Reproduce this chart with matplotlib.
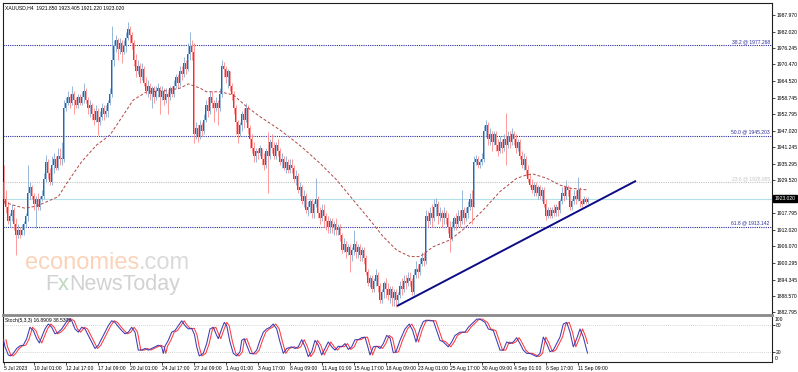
import matplotlib.pyplot as plt
from matplotlib.transforms import blended_transform_factory
import numpy as np

plt.rcParams['font.family'] = ['Liberation Sans', 'DejaVu Sans']

# XAUUSD H4 candles (one value per bar)
first_open = 1929.0
closes = [
    1923, 1920, 1915, 1917, 1919, 1914, 1910, 1912, 1910, 1912,
    1914, 1917, 1925, 1927, 1924, 1921, 1923, 1920, 1923, 1924,
    1930, 1936, 1932, 1929, 1935, 1937, 1934, 1938, 1937, 1937,
    1955, 1957, 1959, 1957, 1960, 1958, 1956, 1959, 1957, 1959,
    1961, 1958, 1955, 1956, 1953, 1951, 1954, 1950, 1952, 1955,
    1953, 1954, 1957, 1960, 1972, 1977, 1979, 1976, 1978, 1975,
    1977, 1980, 1983, 1981, 1978, 1972, 1968, 1970, 1966, 1969,
    1964, 1961, 1963, 1960, 1962, 1959, 1961, 1962, 1959, 1961,
    1958, 1960, 1959, 1962, 1960, 1963, 1966, 1964, 1968, 1967,
    1971, 1969, 1974, 1977, 1975, 1946, 1948, 1945, 1949, 1947,
    1951, 1956, 1954, 1959, 1957, 1955, 1957, 1955, 1960, 1970,
    1969, 1966, 1968, 1963, 1960, 1955, 1950, 1946, 1949, 1953,
    1951, 1955, 1948, 1944, 1941, 1938, 1940, 1939, 1941,
    1937, 1935, 1940, 1938, 1943, 1941, 1938, 1942, 1940, 1936,
    1937, 1934, 1936, 1933, 1935, 1934, 1930, 1931, 1926, 1927,
    1922, 1924, 1919, 1920, 1922, 1918, 1921, 1923, 1918, 1916,
    1919, 1917, 1915, 1913, 1915, 1913, 1914, 1912, 1913, 1910,
    1905, 1907, 1904, 1906, 1903, 1905, 1907, 1904, 1906, 1903,
    1905, 1902, 1897, 1893, 1895, 1891, 1894, 1896, 1892, 1887,
    1890, 1893, 1891, 1889, 1891, 1888, 1890, 1887, 1889, 1892,
    1891, 1894, 1893, 1895, 1894, 1890, 1896, 1898, 1897, 1900,
    1902, 1901, 1917, 1915, 1918, 1916, 1920, 1921, 1917, 1918,
    1916, 1918, 1916, 1913, 1909, 1913, 1916, 1914, 1917, 1915,
    1919, 1916, 1918, 1920, 1923, 1920, 1936, 1937, 1935, 1936,
    1937, 1947, 1949, 1944, 1946, 1943, 1946, 1942, 1940, 1943,
    1941, 1944, 1942, 1945, 1943, 1946, 1944, 1941, 1943, 1938,
    1935, 1937, 1933, 1930, 1928, 1926, 1928, 1925, 1927, 1924,
    1926, 1921, 1917, 1919, 1917, 1919, 1918, 1920, 1919, 1922,
    1925, 1924, 1927, 1926, 1920, 1922, 1924, 1923, 1926, 1922,
    1921, 1923, 1921.85, 1923.02,
]
highs = [
    1935, 1926, 1922, 1918, 1921, 1920, 1916, 1914, 1913, 1914,
    1915, 1918, 1935, 1929, 1928, 1925, 1924, 1925, 1924, 1926,
    1932, 1938.5, 1937, 1934, 1938, 1939, 1938, 1941, 1941, 1943,
    1958, 1959, 1961, 1960, 1963, 1961, 1959, 1960, 1960, 1961,
    1964, 1962, 1959, 1958, 1957, 1955, 1956, 1955, 1954, 1957,
    1956, 1956, 1958, 1962, 1984, 1979, 1981, 1980, 1980, 1979,
    1979, 1982, 1985.5, 1984, 1982, 1979, 1974, 1972, 1971, 1971,
    1970, 1966, 1965, 1964, 1963, 1963, 1963, 1964, 1963, 1963,
    1962, 1962, 1961, 1963, 1963, 1965, 1967, 1967, 1970, 1970,
    1973, 1972, 1978, 1982, 1979, 1978, 1950, 1949, 1951, 1950,
    1953, 1958, 1959, 1961, 1961, 1958, 1959, 1958, 1962, 1972,
    1971.5, 1970, 1969, 1968, 1964, 1961, 1956, 1951, 1950, 1954,
    1955, 1957, 1956, 1949, 1946, 1943, 1941, 1941, 1942,
    1940, 1939, 1941, 1946.6, 1944, 1946, 1943, 1943, 1944, 1941,
    1939, 1938, 1938, 1937, 1937, 1937, 1935, 1933, 1932, 1929,
    1928, 1926, 1925, 1922, 1923, 1923, 1922, 1930.3, 1924, 1920,
    1921, 1921, 1918, 1917, 1916, 1916, 1915, 1916, 1914, 1914,
    1911, 1909, 1908, 1907, 1907, 1906, 1912, 1908, 1907, 1907,
    1906, 1906, 1903, 1898, 1896, 1896, 1895, 1898, 1897, 1893,
    1891, 1894, 1895, 1893, 1892, 1892, 1891, 1891, 1890, 1894,
    1895, 1896, 1896, 1897, 1897, 1895, 1898, 1901, 1900, 1902,
    1904, 1904, 1919, 1918.5, 1920, 1921, 1923, 1923.2, 1922, 1920,
    1919, 1920, 1919, 1918, 1915, 1915, 1917, 1918, 1919, 1919,
    1926, 1920, 1920, 1922, 1925, 1926, 1938, 1938.5, 1938, 1937,
    1939, 1949, 1951, 1950, 1948, 1947, 1947, 1947, 1944, 1945,
    1944, 1946, 1953.3, 1947, 1947, 1948, 1947, 1946, 1944, 1944,
    1940, 1939, 1938, 1935, 1932, 1930, 1929, 1929, 1928, 1928,
    1927, 1927, 1923, 1920, 1920, 1920, 1921, 1921, 1922, 1923,
    1927, 1928, 1929.6, 1928, 1927, 1923, 1926, 1926, 1930.7, 1927,
    1923, 1924, 1923.5, 1923.405,
]
lows = [
    1921, 1918, 1914, 1913, 1915, 1912, 1903, 1909, 1909, 1910,
    1910, 1913, 1915, 1923, 1923, 1919, 1912.6, 1919, 1919, 1922,
    1923, 1929, 1930, 1928, 1928, 1932, 1933, 1933, 1935, 1935,
    1936, 1954, 1956, 1955, 1956, 1953, 1955, 1955, 1956, 1956,
    1957, 1957, 1953, 1952, 1951, 1949, 1950, 1945.5, 1949, 1951,
    1951, 1952, 1952, 1956, 1959, 1970, 1975, 1972, 1974, 1971,
    1974, 1975, 1979, 1978, 1976, 1970, 1966, 1967, 1964, 1965,
    1963, 1960, 1959, 1958, 1955, 1957, 1958, 1959, 1953, 1958,
    1956, 1957, 1953, 1958, 1959, 1959, 1962, 1962, 1963, 1965,
    1966, 1967, 1968, 1972, 1972, 1942.7, 1944, 1943, 1944, 1945,
    1946, 1950, 1952, 1953, 1955, 1950, 1954, 1949, 1954, 1959,
    1966, 1964, 1962, 1961, 1958, 1953, 1946, 1942.7, 1945, 1947,
    1948, 1950, 1946, 1941, 1939, 1936, 1936, 1937, 1938,
    1935, 1933, 1934, 1925, 1937, 1939, 1937, 1937, 1938, 1935,
    1934, 1933, 1932, 1932, 1932, 1932, 1929, 1928, 1925, 1924,
    1921, 1920, 1918, 1917, 1918, 1916, 1916, 1920, 1916, 1914,
    1915, 1913, 1912, 1911, 1911, 1911, 1910, 1910, 1910, 1908,
    1903.8, 1904, 1902, 1903, 1897, 1901, 1903, 1902, 1902, 1901,
    1901, 1900, 1896, 1892, 1891.7, 1890, 1890, 1892, 1890, 1886,
    1886, 1888, 1888, 1887, 1886, 1885, 1885, 1884.7, 1885.5, 1888,
    1889, 1890, 1891, 1892, 1892, 1889, 1889, 1895, 1895, 1896,
    1899, 1899, 1900, 1913, 1914, 1913, 1915, 1917, 1914, 1915,
    1913, 1914, 1914, 1911, 1904, 1908, 1912, 1912, 1913, 1913,
    1914, 1914, 1915, 1916, 1919, 1914, 1920, 1935, 1934, 1934,
    1935, 1936, 1945, 1942, 1942, 1940, 1942, 1940, 1938, 1939,
    1939, 1940, 1935, 1941, 1941, 1942, 1942, 1939, 1940, 1937,
    1934, 1933, 1931, 1929, 1927, 1925, 1924, 1924, 1923, 1923,
    1922, 1920, 1915.4, 1916, 1916, 1916, 1917, 1917, 1917, 1918,
    1921, 1922, 1923, 1924, 1919, 1919, 1921, 1921, 1922, 1920,
    1920, 1921, 1921, 1921.22,
]

# moving average (dashed), read at points along the curve
ma_x = [0, 4.9, 10.75, 16.6, 21.6, 27.4, 31.6, 39.1, 46.6, 53.25, 64.9, 71.6,
        81.6, 88.25, 92.4, 98.25, 101.6, 108.25, 114.9, 121.6, 128.25, 138.25,
        144.9, 149.9, 158.25, 166.6, 174.9, 183.25, 189.9, 196.6, 203.25,
        208.25, 214.9, 223.25, 230.75, 239.9, 248.25, 256.6, 261.6, 264.9,
        271.6, 278.25, 283.25, 291.6]
ma_y = [1921.9, 1920.7, 1919.6, 1920.4, 1921.9, 1923.7, 1928.4, 1936.1, 1942.0,
        1945.5, 1957.9, 1960.8, 1961.2, 1962.1, 1963.6, 1962.1, 1960.8, 1960.8,
        1959.7, 1955.5, 1952.0, 1947.3, 1943.7, 1940.8, 1935.5, 1929.6, 1922.5,
        1915.4, 1909.5, 1904.8, 1902.5, 1902.5, 1906.0, 1908.4, 1912.6, 1919.0,
        1925.5, 1930.2, 1931.4, 1931.7, 1930.2, 1927.8, 1926.7, 1926.1]

# Stoch(5,3,3) main line, turning points
stoch_x = [0, 0.75, 2.4, 3.6, 4.9, 6.6, 8.25, 9.9, 11.6, 13.25, 14.9, 16.6, 17.9,
           19.1, 20.75, 22.4, 24.1, 25.75, 27.4, 29.1, 30.75, 32.4, 34.1, 35.75,
           37.4, 39.1, 40.75, 42.4, 44.1, 45.75, 47.4, 49.1, 50.75, 52.4, 54.1,
           55.75, 57.4, 59.1, 60.75, 62.4, 64.1, 65.75, 67.4, 69.1, 70.75, 72.4,
           74.1, 75.75, 77.4, 79.1, 79.9, 80.75, 82.4, 84.1, 85.75, 87.4, 89.1,
           90.75, 92.4, 94.1, 95.5, 96.6, 97.9,
           99.9, 101.6, 103.25, 104.9, 106.6, 107.4, 109.1, 110.4, 111.6, 113.25,
           114.9, 116.6, 118.25, 119.1, 120.4, 121.6, 123.25, 124.9, 126.6,
           128.25, 129.9, 131.6, 133.25, 134.9, 136.6, 138.25, 139.9, 141.6,
           144.1, 145.75, 147.4, 149.1, 150.75, 152.4, 154.1, 155.75, 157.4,
           159.1, 160.75, 162.4, 164.1, 165.75, 167.4, 169.1, 170.75, 172.4,
           174.1, 175.75, 177.4, 179.1, 180.75, 182.4, 183.25, 184.9, 186.6,
           188.25, 189.9, 191.6, 193.25,
           194.9, 196.25, 198.25, 200.75, 202.9, 204.6, 206.25, 208.25, 209.9,
           211.6, 213.25, 214.9, 216.6, 218.25, 219.9, 222.4, 224.1, 225.75,
           228.25, 230.75, 232.4, 234.1, 236.6, 238.25, 240.75, 242.4, 244.9,
           246.6, 248.25, 249.9, 251.6, 253.25, 254.9, 256.6, 258.25, 259.9,
           261.6, 263.25, 264.9, 266.6, 268.25, 269.9, 271.6, 273.25, 274.9,
           276.6, 278.25, 279.9, 281.6, 283.25, 284.9, 286.6, 288.25, 289.9, 292]
stoch_main = [47, 31, 12.7, 10.5, 16.3, 27.3, 33.2, 34.6, 49.3, 74.9, 67.6, 49.3,
              39.7, 52.9, 71.2, 82.2, 74.9, 60.2, 63.9, 71.2, 82.2, 93.9, 89.5,
              71.2, 63.9, 74.9, 71.2, 56.6, 41.9, 27.3, 34.6, 49.3, 63.9, 78.5,
              89.5, 85.9, 76.3, 67.6, 60.2, 63.9, 74.9, 63.9, 23.6, 23.6, 27.3,
              23.6, 27.3, 31, 34.6, 31, 16.3, 32.4, 45.6, 63.9, 67.6, 78.5, 89.5,
              78.5, 71.2, 72.7, 58, 31, 10.5,
              16.3, 38.3, 71.2, 74.9, 56.6, 49.3, 71.2, 85.9, 78.5, 41.9, 16.3,
              10.5, 20, 45.6, 49.3, 34.6, 16.3, 14.9, 23.6, 45.6, 63.9, 71.2,
              74.9, 82.2, 71.2, 41.9, 16.3, 27.3, 31, 27.3, 31, 47, 31, 9, 20,
              45.6, 34.6, 12.7, 27.3, 41.9, 31, 23.6, 32.4, 31, 38.3, 25.1, 31,
              47, 47, 51.5, 52.9, 27.3, 12.7, 31, 32.4, 27.3, 38.3, 56.6, 51,
              17.8, 20, 45.6, 71.2, 82.2, 67.6, 41.9, 71.2, 88, 91, 89.5, 89.5,
              67.6, 45.6, 41.9, 31, 41.9, 56.6, 63.9, 63.9, 74.9, 82.2, 93.2,
              93.2, 85.9, 71.2, 67.6, 45.6, 23.6, 23.6, 41.9, 38.3, 41.9, 51.5,
              38.3, 23.6, 16.3, 16.3, 12.7, 9, 16.3, 52.9, 38.3, 20, 23.6, 38.3,
              52.9, 82.2, 85.9, 63.9, 31, 49.3, 71.2, 52.9, 16.9]
stoch_signal_last = 38.53
signal_lag = 1.25

fib_levels = [1977.268, 1945.203, 1928.885, 1913.142]
fib_names = ["38.2", "50.0", "23.6", "61.8"]
fib_colors = ["#2b2b9c", "#2b2b9c", "#c4c4c4", "#2b2b9c"]
last_price = 1923.020
trend_x = [196.75, 316.25]
trend_y = [1885.0, 1929.3]

price_ticks = [1987.970, 1982.020, 1976.245, 1970.470, 1964.520, 1958.745,
               1952.795, 1947.020, 1941.245, 1935.295, 1929.520, 1917.795,
               1912.020, 1906.070, 1900.295, 1894.345, 1888.570, 1882.795]
date_ticks = [0, 15, 31, 47, 63, 79, 95, 111, 127, 143, 159, 175, 191, 207,
              223, 239, 255, 271, 287]
date_labels = ["5 Jul 2023", "10 Jul 01:00", "12 Jul 17:00", "17 Jul 09:00",
               "20 Jul 01:00", "24 Jul 17:00", "27 Jul 09:00", "1 Aug 01:00",
               "3 Aug 17:00", "8 Aug 09:00", "11 Aug 01:00", "15 Aug 17:00",
               "18 Aug 09:00", "23 Aug 01:00", "25 Aug 17:00", "30 Aug 09:00",
               "4 Sep 01:00", "6 Sep 17:00", "11 Sep 09:00"]

W, H = 798, 372
fs = 3.6
fig = plt.figure(figsize=(W / 100, H / 100), dpi=100, facecolor="white")


def px_axes(x0, y0, x1, y1):
    return fig.add_axes([x0 / W, 1 - y1 / H, (x1 - x0) / W, (y1 - y0) / H])


ax = px_axes(3, 3, 772, 315)
ax2 = px_axes(3, 317, 772, 362)
xlim = (-0.25, 384.25)

# ---- candles ----
c = np.array(closes, dtype=float)
o = np.concatenate([[first_open], c[:-1]])
h = np.maximum(np.array(highs, dtype=float), np.maximum(o, c))
l = np.minimum(np.array(lows, dtype=float), np.minimum(o, c))
x = np.arange(len(c))
up = c >= o
dn = ~up
body_lo = np.minimum(o, c)
body_h = np.maximum(np.abs(c - o), 0.35)

ax.vlines(x[up], l[up], h[up], color="#86acd4", lw=0.6, zorder=3)
ax.vlines(x[dn], l[dn], h[dn], color="#ff8a8a", lw=0.6, zorder=3)
ax.bar(x[up], body_h[up], bottom=body_lo[up], width=0.62, color="#2a65ab", lw=0, zorder=4)
ax.bar(x[dn], body_h[dn], bottom=body_lo[dn], width=0.62, color="#f52a2a", lw=0, zorder=4)

ax.plot(ma_x, ma_y, color="#b04848", lw=0.7, ls=(0, (3, 2)), zorder=5)

# fibonacci levels and current price
tr = blended_transform_factory(ax.transAxes, ax.transData)
for lev, name, col in zip(fib_levels, fib_names, fib_colors):
    ax.axhline(lev, color=col, lw=0.8, ls=(0, (1, 1)), zorder=2)
    ax.text(0.997, lev + 0.4, f"{name} @ {lev:.3f}", transform=tr, ha="right",
            va="bottom", fontsize=fs, color=col)
ax.axhline(last_price, color="#b3e1ea", lw=0.8, zorder=2)
ax.plot(trend_x, trend_y, color="#0c0c86", lw=1.4, solid_capstyle="butt", zorder=6)

ax.set_xlim(*xlim)
ax.set_ylim(1881.83, 1992.22)
ax.set_xticks([])
ax.yaxis.tick_right()
ax.set_yticks(price_ticks)
ax.set_yticklabels([f"{v:.3f}" for v in price_ticks])
ax.tick_params(axis="y", direction="out", length=2, width=0.5, pad=1,
               labelsize=fs, colors="black")
for s in ["left", "top", "right"]:
    ax.spines[s].set_linewidth(0.8)
    ax.spines[s].set_color("#202020")
ax.spines["bottom"].set_linewidth(2)
ax.spines["bottom"].set_color("#8a8a8a")

ax.text(1.003, last_price, f"{last_price:.3f}", transform=tr, ha="left",
        va="center", fontsize=fs, color="white", clip_on=False,
        bbox=dict(boxstyle="square,pad=0.25", fc="black", ec="black"))
ax.text(0.003, 0.994, "XAUUSD,H4  1921.850 1923.405 1921.220 1923.020",
        transform=ax.transAxes, ha="left", va="top", fontsize=fs)

# ---- stochastic panel ----
sx = np.array(stoch_x)
sy = np.array(stoch_main)
sig_x = sx + signal_lag
keep = sig_x < 292
sig_x = np.append(sig_x[keep], 292)
sig_y = np.append(sy[keep], stoch_signal_last)

for lvl in (80, 20):
    ax2.axhline(lvl, color="#c6c6c6", lw=0.6, ls=(0, (1, 1.5)), zorder=1)
ax2.plot(sig_x, sig_y, color="#ff3b3b", lw=0.75, zorder=3)
ax2.plot(sx, sy, color="#3c3cb4", lw=0.75, zorder=4)
ax2.set_xlim(*xlim)
ax2.set_ylim(-3.1, 98)
ax2.yaxis.tick_right()
ax2.set_yticks([80, 20])
ax2.set_yticklabels(["80", "20"])
ax2.tick_params(axis="y", direction="out", length=2, width=0.5, pad=1, labelsize=fs)
ax2.text(1.004, 1.0, "100", transform=ax2.transAxes, ha="left", va="top", fontsize=fs)
ax2.text(1.004, 0.02, "0", transform=ax2.transAxes, ha="left", va="bottom", fontsize=fs)
ax2.set_xticks(date_ticks)
ax2.set_xticklabels(date_labels, ha="left")
ax2.tick_params(axis="x", direction="out", length=2, width=0.5, pad=1, labelsize=fs)
ax2.text(0.002, 0.97, "Stoch(5,3,3) 16.8909 38.5300", transform=ax2.transAxes,
         ha="left", va="top", fontsize=fs)
for s in ["left", "bottom", "right"]:
    ax2.spines[s].set_linewidth(0.8)
    ax2.spines[s].set_color("#202020")
ax2.spines["top"].set_visible(False)

# ---- watermark ----
renderer = fig.canvas.get_renderer()


def wm(parts, x0, base, size):
    xpos = x0
    for txt, col in parts:
        t = fig.text(xpos / W, 1 - base / H, txt, fontsize=size, color=col,
                     va="baseline", ha="left", zorder=2)
        xpos += t.get_window_extent(renderer=renderer).width


wm([("economies", "#fad3b8"), (".com", "#dadada")], 25, 269, 17)
wm([("F", "#d2d2d2"), ("x", "#bcd8bc"), ("NewsToday", "#d2d2d2")], 45, 290, 15.5)

fig.savefig("out.png", dpi=100, facecolor="white")
